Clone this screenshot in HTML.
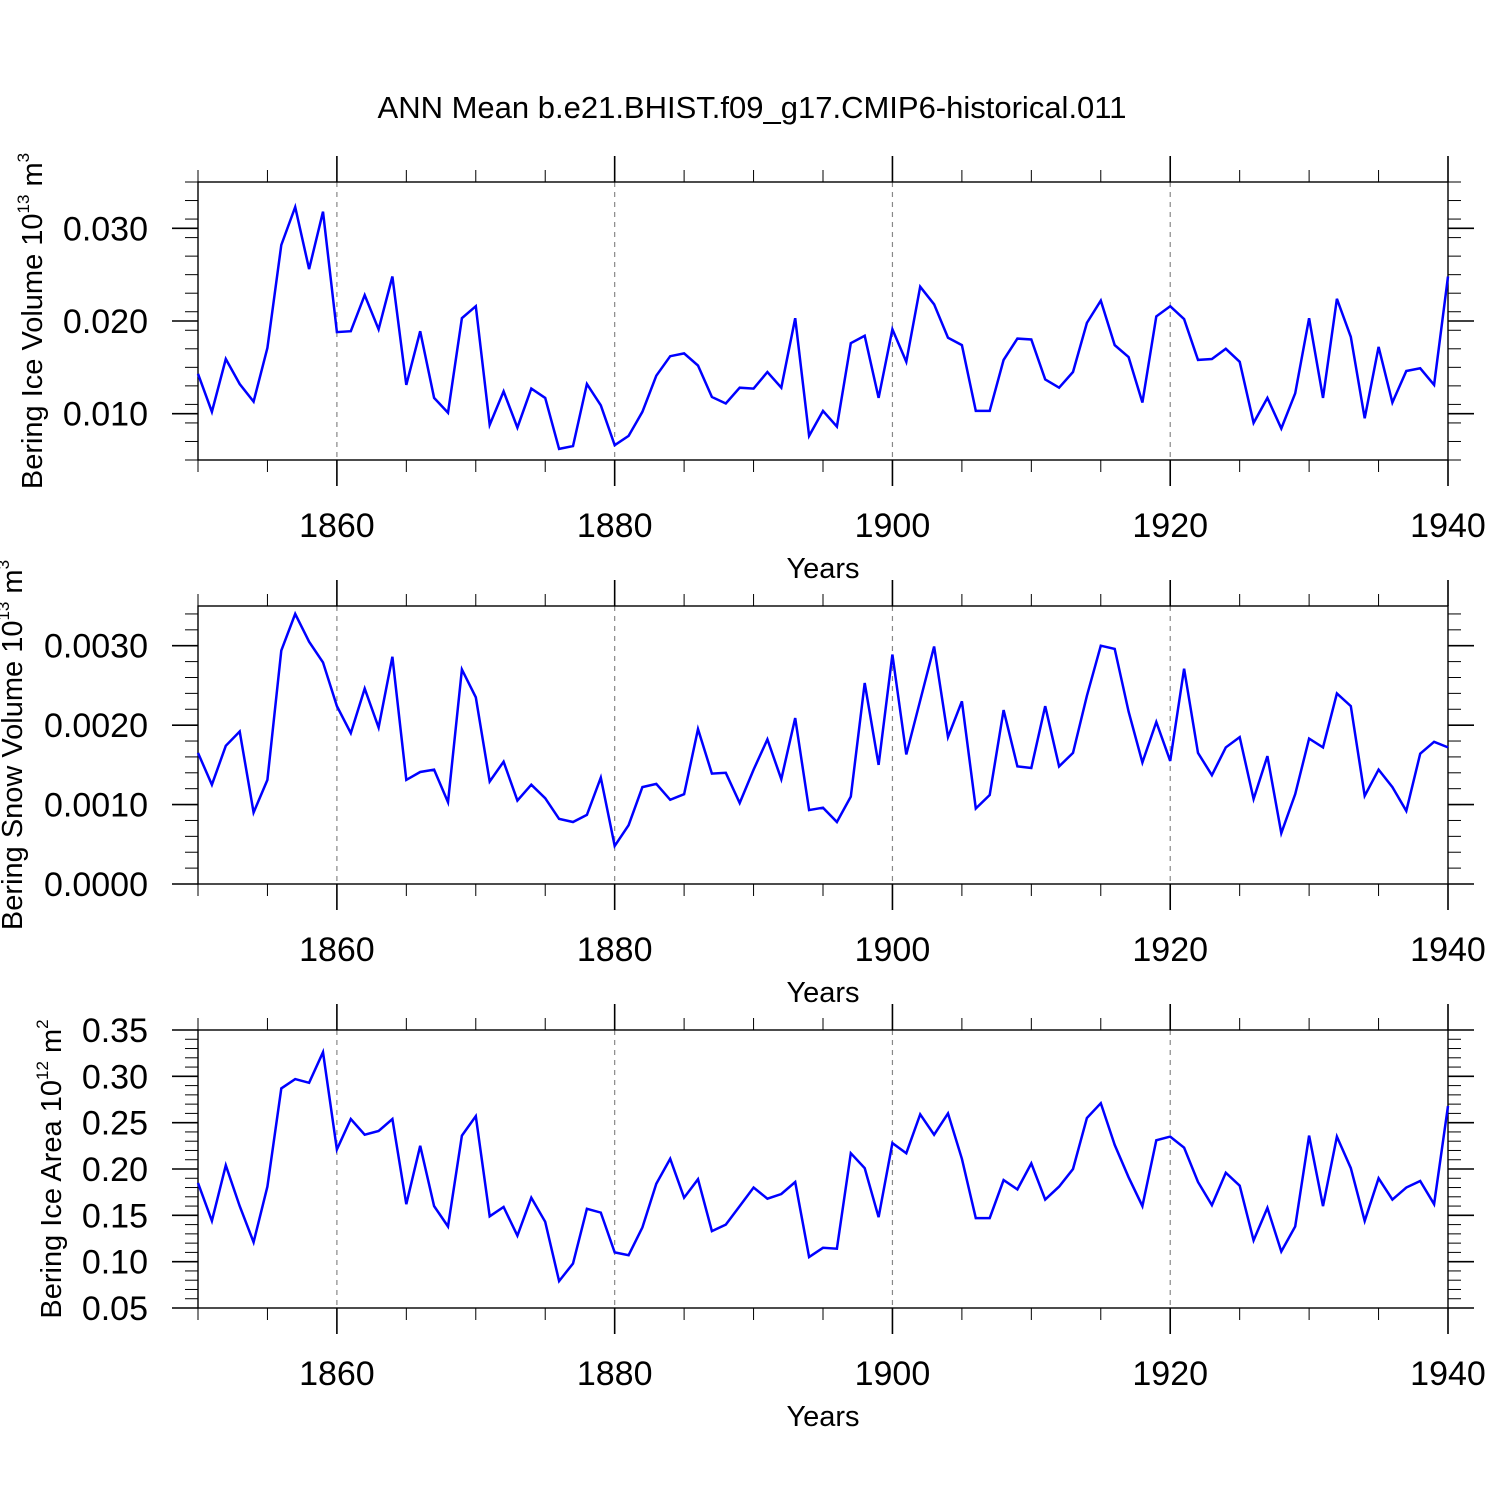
<!DOCTYPE html>
<html><head><meta charset="utf-8"><style>
html,body{margin:0;padding:0;background:#fff;}
svg{display:block;font-family:"Liberation Sans",sans-serif;}
</style></head><body>
<svg id="chart" width="1500" height="1500" viewBox="0 0 1500 1500">
<text x="752" y="118" font-size="31" text-anchor="middle">ANN Mean b.e21.BHIST.f09_g17.CMIP6-historical.011</text>
</svg>
<script>
const years = [];
for (let y = 1850; y <= 1940; y++) years.push(y);
const iceVolume = [0.0143,0.0102,0.0159,0.0132,0.0113,0.0171,0.0282,0.0323,0.0256,0.0318,
0.0188,0.0189,0.0228,0.0191,0.0248,0.0131,0.0189,0.0117,0.0101,0.0203,
0.0216,0.0088,0.0124,0.0085,0.0127,0.0117,0.0062,0.0065,0.0132,0.0109,
0.0066,0.0076,0.0102,0.0141,0.0162,0.0165,0.0152,0.0118,0.0111,0.0128,
0.0127,0.0145,0.0128,0.0203,0.0076,0.0103,0.0086,0.0176,0.0184,0.0117,
0.0191,0.0156,0.0237,0.0218,0.0182,0.0174,0.0103,0.0103,0.0158,0.0181,
0.0180,0.0137,0.0128,0.0145,0.0198,0.0222,0.0174,0.0161,0.0112,0.0205,
0.0216,0.0202,0.0158,0.0159,0.0170,0.0156,0.0090,0.0117,0.0084,0.0122,
0.0203,0.0117,0.0224,0.0183,0.0095,0.0172,0.0112,0.0146,0.0149,0.0131,0.0248];
const snowVolume = [1.65,1.25,1.74,1.92,0.90,1.31,2.94,3.40,3.05,2.79,
2.24,1.90,2.46,1.97,2.86,1.31,1.41,1.44,1.03,2.70,
2.35,1.29,1.54,1.05,1.25,1.08,0.82,0.78,0.87,1.34,
0.48,0.74,1.22,1.26,1.06,1.13,1.95,1.39,1.40,1.02,
1.44,1.82,1.32,2.09,0.93,0.96,0.78,1.10,2.53,1.50,
2.89,1.63,2.31,2.99,1.85,2.30,0.95,1.12,2.19,1.48,
1.46,2.24,1.48,1.65,2.37,3.00,2.96,2.17,1.53,2.04,
1.55,2.71,1.65,1.37,1.72,1.85,1.07,1.61,0.64,1.13,
1.83,1.72,2.40,2.24,1.11,1.44,1.22,0.92,1.64,1.79,1.72].map(v=>v*0.001);
const iceArea = [0.185,0.144,0.204,0.160,0.121,0.181,0.287,0.297,0.293,0.326,
0.221,0.254,0.237,0.241,0.254,0.162,0.225,0.160,0.138,0.236,
0.257,0.149,0.159,0.128,0.169,0.143,0.079,0.098,0.157,0.153,
0.110,0.107,0.137,0.184,0.211,0.169,0.189,0.133,0.140,0.160,
0.180,0.168,0.173,0.186,0.105,0.115,0.114,0.217,0.201,0.148,
0.228,0.217,0.259,0.237,0.260,0.211,0.147,0.147,0.188,0.178,
0.206,0.167,0.181,0.200,0.255,0.271,0.226,0.191,0.160,0.231,
0.235,0.223,0.186,0.161,0.196,0.182,0.123,0.158,0.111,0.138,
0.236,0.160,0.235,0.201,0.144,0.190,0.167,0.180,0.187,0.162,0.268];
const xTickLabels = ["1860","1880","1900","1920","1940"];
const yTicks1 = ["0.010","0.020","0.030"];
const yTicks2 = ["0.0000","0.0010","0.0020","0.0030"];
const yTicks3 = ["0.05","0.10","0.15","0.20","0.25","0.30","0.35"];

const svg = document.getElementById('chart');
const NS = 'http://www.w3.org/2000/svg';
function mk(tag, attrs, parent){
  const e = document.createElementNS(NS, tag);
  for (const k in attrs) e.setAttribute(k, attrs[k]);
  (parent||svg).appendChild(e);
  return e;
}
const L = 198, R = 1448;
const xScale = yr => L + (yr - 1850) * (R - L) / 90;

function panel(cfg){
  const g = mk('g', {});
  
  
  const T = cfg.top, B = cfg.top + 278;
  const yScale = v => B - (v - cfg.ymin) * (B - T) / (cfg.ymax - cfg.ymin);
  for (let yr = 1860; yr <= 1920; yr += 20) {
    const l = mk('line', {x1:xScale(yr), x2:xScale(yr), y1:T, y2:B, stroke:'#888', 'stroke-width':1.2, 'stroke-dasharray':'5,5'}, g);
    
    
  }
  for (let yr = 1850; yr <= 1940; yr += 5) {
    const major = (yr - 1860) % 20 === 0 && yr >= 1860;
    const len = major ? 26 : 12, w = major ? 1.6 : 1;
    mk('line', {x1:xScale(yr), x2:xScale(yr), y1:T-len, y2:T, stroke:'#000', 'stroke-width':w}, g);
    mk('line', {x1:xScale(yr), x2:xScale(yr), y1:B, y2:B+len, stroke:'#000', 'stroke-width':w}, g);
  }
  xTickLabels.forEach(s => {
    const t = mk('text', {x:xScale(+s), y:B+77, 'font-size':34, 'text-anchor':'middle'}, g);
    t.textContent = s;
    
    
  });
  for (let v = cfg.ymin; v <= cfg.ymax + 1e-9; v += cfg.minor) {
    const y = yScale(v);
    mk('line', {x1:L-13, x2:L, y1:y, y2:y, stroke:'#000', 'stroke-width':1}, g);
    mk('line', {x1:R, x2:R+13, y1:y, y2:y, stroke:'#000', 'stroke-width':1}, g);
  }
  cfg.ticks.forEach(s => {
    const y = yScale(parseFloat(s));
    mk('line', {x1:L-26, x2:L, y1:y, y2:y, stroke:'#000', 'stroke-width':1.6}, g);
    mk('line', {x1:R, x2:R+26, y1:y, y2:y, stroke:'#000', 'stroke-width':1.6}, g);
    const t = mk('text', {x:L-50, y:y+12, 'font-size':34, 'text-anchor':'end'}, g);
    t.textContent = s;
    
    
  });
  const box = mk('rect', {x:L, y:T, width:R-L, height:B-T, fill:'none', stroke:'#000', 'stroke-width':1.4}, g);
  
  
  const pts = cfg.data.map((v,i) => xScale(years[i]).toFixed(1) + ',' + yScale(v).toFixed(1)).join(' ');
  const pl = mk('polyline', {points:pts, fill:'none', stroke:'#0000ff', 'stroke-width':2.5, 'stroke-linejoin':'miter'}, g);
  
  
  const xt = mk('text', {x:823, y:B+118, 'font-size':29, 'text-anchor':'middle'}, g);
  xt.textContent = 'Years';
  
  
  const yt = mk('text', {x:0, y:0, 'font-size':29, 'text-anchor':'middle', transform:`translate(${cfg.ytx},${(T+B)/2}) rotate(-90)`}, g);
  
  
  yt.innerHTML = cfg.ytitle + ' 10<tspan font-size="17" dy="-13">' + cfg.exp + '</tspan><tspan dy="13"> m</tspan><tspan font-size="17" dy="-13">' + cfg.pw + '</tspan>';
}
panel({name:'ice-volume-panel', top:182, ymin:0.005, ymax:0.035, minor:0.002, ticks:yTicks1, data:iceVolume, ytitle:'Bering Ice Volume', exp:'13', pw:'3', ytx:42});
panel({name:'snow-volume-panel', top:606, ymin:0, ymax:0.0035, minor:0.0002, ticks:yTicks2, data:snowVolume, ytitle:'Bering Snow Volume', exp:'13', pw:'3', ytx:22});
panel({name:'ice-area-panel', top:1030, ymin:0.05, ymax:0.35, minor:0.01, ticks:yTicks3, data:iceArea, ytitle:'Bering Ice Area', exp:'12', pw:'2', ytx:61});
</script>
</body></html>
